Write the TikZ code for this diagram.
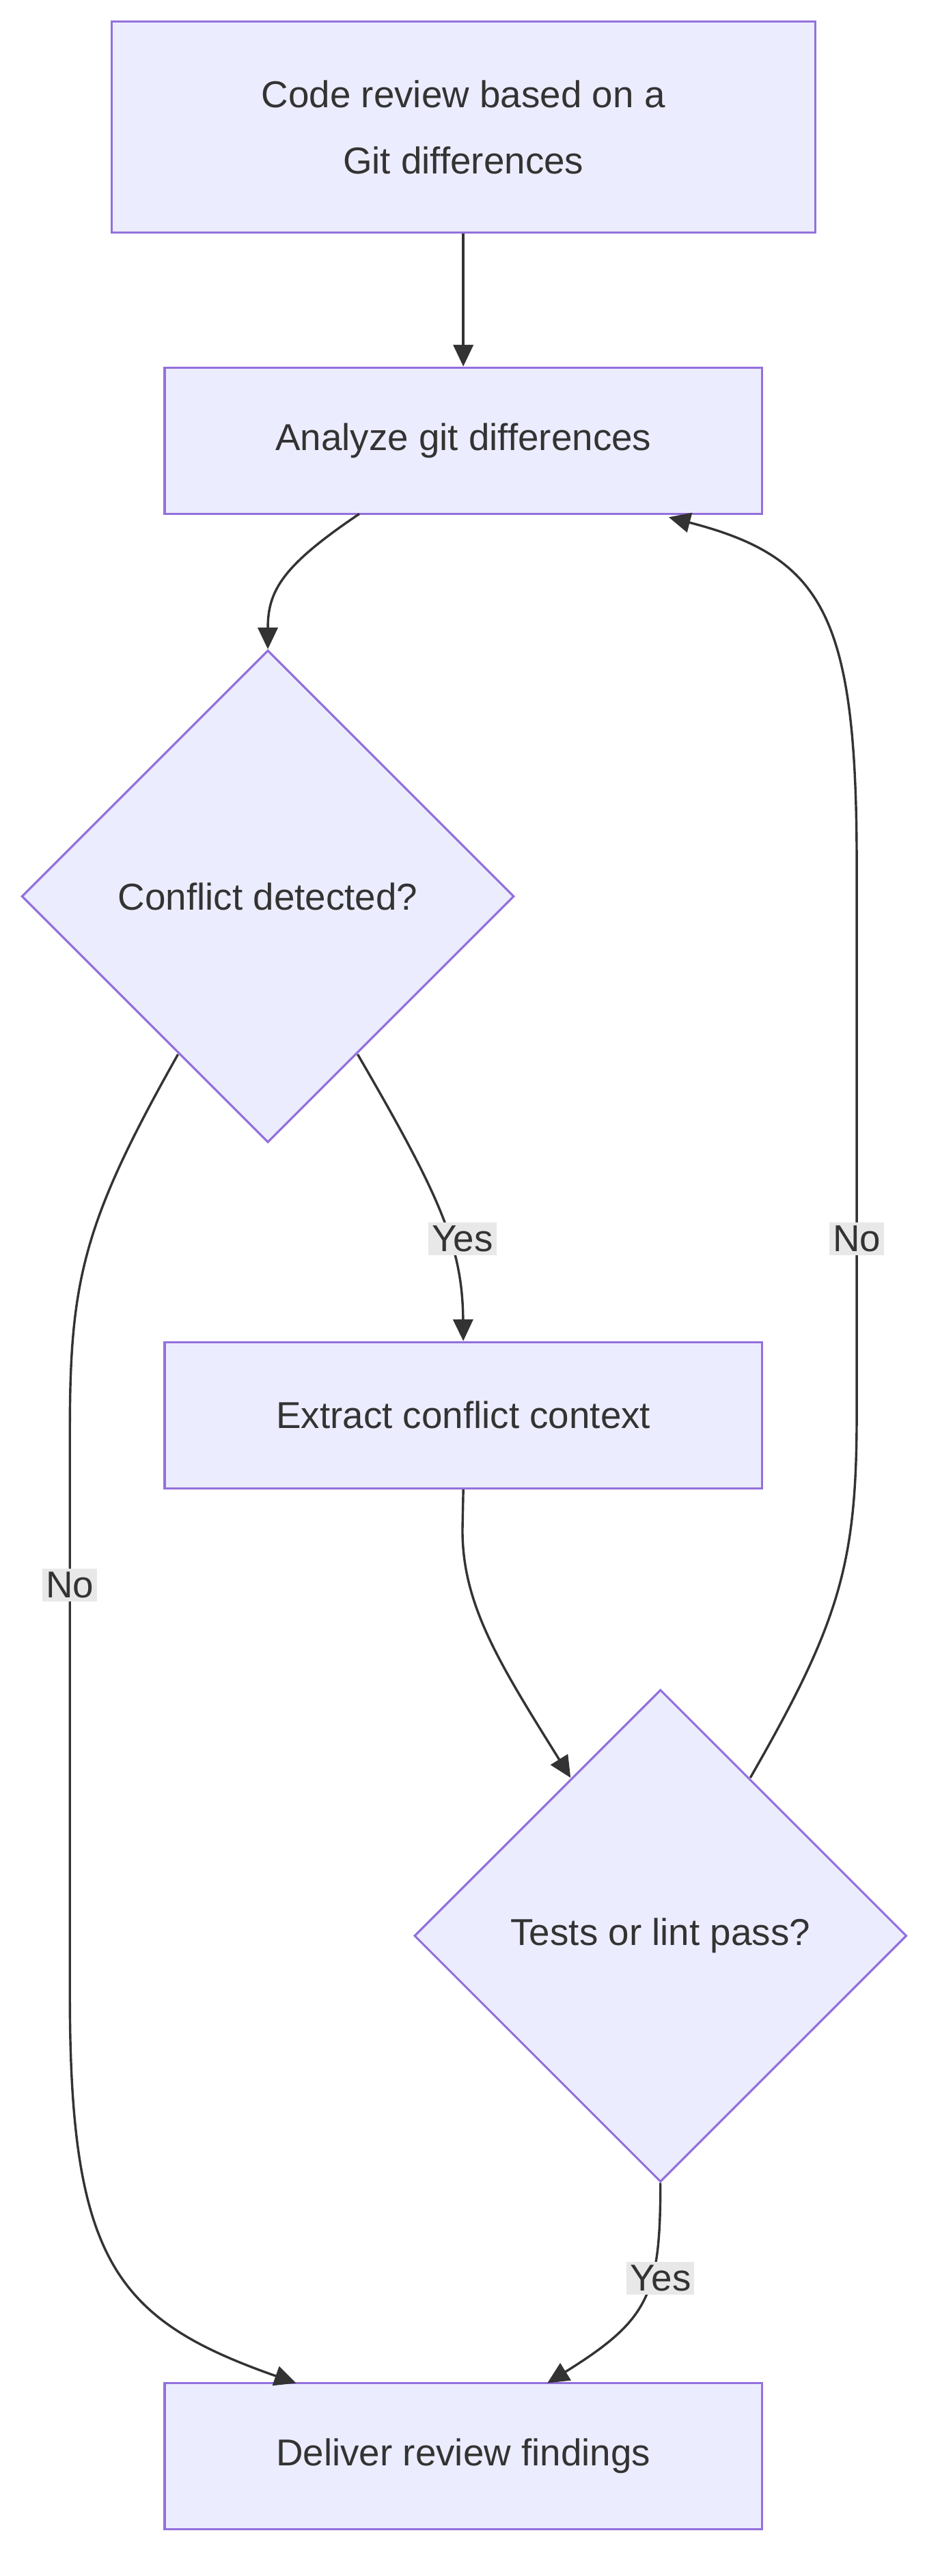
\documentclass[tikz,border=0pt]{standalone}
\usepackage{fontspec}
\setmainfont{Liberation Sans}
\usetikzlibrary{shapes.geometric,arrows.meta}
\definecolor{nfill}{HTML}{ECECFF}
\definecolor{nline}{HTML}{9370DB}
\definecolor{ntext}{HTML}{333333}
\definecolor{lbg}{HTML}{E8E8E8}
\begin{document}
\begin{tikzpicture}[x=1pt,y=-1pt,
  every node/.style={font=\fontsize{22.5}{40}\selectfont, text=ntext},
  boxn/.style={draw=nline, fill=nfill, line width=1.3pt, minimum width=359pt, minimum height=88pt, inner sep=0pt, align=center},
  dia/.style={draw=nline, fill=nfill, line width=1.3pt, diamond, aspect=1, minimum size=296pt, inner sep=0pt},
  lab/.style={fill=lbg, inner sep=2pt},
  conn/.style={draw=ntext, line width=1.4pt, -{Triangle[length=13pt,width=12pt]}}]
\useasboundingbox (0,0) rectangle (565,1549);
\node[boxn, minimum width=423pt, minimum height=127pt] (a) at (278.5,76.5) {Code review based on a\\Git differences};
\node[boxn] (b) at (278.5,265) {Analyze git differences};
\node[dia] (c) at (161,539) {Conflict detected?};
\node[boxn] (d) at (278.5,851) {Extract conflict context};
\node[dia] (e) at (397,1164) {Tests or lint pass?};
\node[boxn] (f) at (278.5,1477) {Deliver review findings};
\coordinate (b1) at (216,309);
\coordinate (b2) at (402,311);
\coordinate (c1) at (215,634);
\coordinate (c2) at (107,634);
\coordinate (e1) at (451,1069);
\coordinate (f1) at (178,1433);
\coordinate (f2) at (329,1433);
\draw[conn] (a.south) -- (b.north);
\draw[conn] (b1) .. controls (170,340) and (161,355) .. (c.north);
\draw[conn] (c1) .. controls (265,720) and (278,750) .. (d.north);
\node[lab] (y1) at (278,745) {Yes};
\draw[conn] (c2) .. controls (50,735) and (42,770) .. (42,860) -- (42,1200) .. controls (42,1360) and (70,1395) .. (f1);
\node[lab] (n1) at (42,953) {No};
\draw[conn] (d.south) -- (278,920) .. controls (278,965) and (300,1000) .. (343,1069);
\draw[conn] (e1) .. controls (505,975) and (515,940) .. (515,850) -- (515,520) .. controls (515,370) and (495,335) .. (b2);
\node[lab] (n2) at (515,745) {No};
\draw[conn] (e.south) .. controls (397,1380) and (390,1395) .. (f2);
\node[lab] (y2) at (397,1370) {Yes};
\end{tikzpicture}
\end{document}
